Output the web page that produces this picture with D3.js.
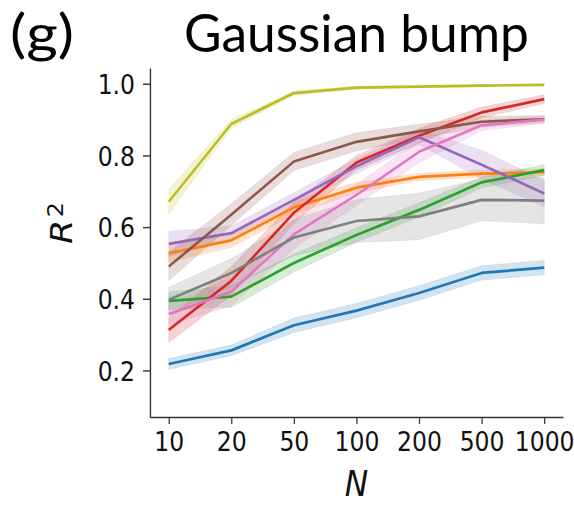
<!DOCTYPE html>
<html>
<head>
<meta charset="utf-8">
<script src="https://cdn.jsdelivr.net/npm/d3@7"></script>
<style>
  html, body { margin: 0; padding: 0; background: #fff; }
  svg { display: block; }
</style>
</head>
<body>
<div id="chart"></div>
<script>
// sample sizes on the x axis (evenly spaced, categorical)
const sampleSizes = ["10", "20", "50", "100", "200", "500", "1000"];
const yTicks = [0.2, 0.4, 0.6, 0.8, 1.0];

// mean R^2 per series
const blueMean   = [0.218, 0.256, 0.326, 0.367, 0.416, 0.472, 0.487];
const orangeMean = [0.527, 0.563, 0.655, 0.710, 0.740, 0.749, 0.753];
const greenMean  = [0.394, 0.406, 0.500, 0.578, 0.648, 0.725, 0.759];
const redMean    = [0.313, 0.450, 0.640, 0.780, 0.855, 0.920, 0.957];
const purpleMean = [0.553, 0.583, 0.676, 0.770, 0.851, 0.774, 0.694];
const brownMean  = [0.490, 0.635, 0.783, 0.838, 0.867, 0.894, 0.901];
const pinkMean   = [0.357, 0.420, 0.580, 0.690, 0.810, 0.884, 0.900];
const grayMean   = [0.397, 0.472, 0.571, 0.617, 0.630, 0.676, 0.674];
const oliveMean  = [0.671, 0.888, 0.974, 0.989, 0.992, 0.995, 0.997];

// half width of the shaded interval
const blueErr   = [0.015, 0.015, 0.020, 0.020, 0.020, 0.020, 0.020];
const orangeErr = [0.025, 0.020, 0.020, 0.015, 0.010, 0.010, 0.010];
const greenErr  = [0.025, 0.030, 0.025, 0.020, 0.020, 0.015, 0.015];
const redErr    = [0.035, 0.040, 0.030, 0.020, 0.020, 0.015, 0.012];
const purpleErr = [0.035, 0.020, 0.020, 0.020, 0.020, 0.040, 0.037];
const brownErr  = [0.040, 0.030, 0.025, 0.025, 0.020, 0.015, 0.010];
const pinkErr   = [0.030, 0.040, 0.040, 0.030, 0.030, 0.015, 0.010];
const grayErr   = [0.035, 0.040, 0.050, 0.060, 0.065, 0.058, 0.065];
const oliveErr  = [0.035, 0.012, 0.006, 0.004, 0.003, 0.003, 0.003];

const series = [
    { color: "#1f77b4", mean: blueMean,   err: blueErr },
    { color: "#ff7f0e", mean: orangeMean, err: orangeErr },
    { color: "#2ca02c", mean: greenMean,  err: greenErr },
    { color: "#d62728", mean: redMean,    err: redErr },
    { color: "#9467bd", mean: purpleMean, err: purpleErr },
    { color: "#8c564b", mean: brownMean,  err: brownErr },
    { color: "#e377c2", mean: pinkMean,   err: pinkErr },
    { color: "#7f7f7f", mean: grayMean,   err: grayErr },
    { color: "#bcbd22", mean: oliveMean,  err: oliveErr }
];

// the original figure is a bit squeezed sideways, so draw in a wider
// coordinate system and let the viewBox compress it
const width = 574, height = 505;
const sx = 0.87;
const W = width / sx;
const px = v => v / sx;   // screen x -> internal x

const plotLeft = px(150), plotRight = px(563);
const plotTop = 68, plotBottom = 417;

const svg = d3.select("#chart").append("svg")
    .attr("width", width)
    .attr("height", height)
    .attr("viewBox", `0 0 ${W} ${height}`)
    .attr("preserveAspectRatio", "none");

const x = d3.scaleLinear()
    .domain([-0.3, sampleSizes.length - 1 + 0.3])
    .range([plotLeft, plotRight]);

const y = d3.scaleLinear()
    .domain([0.07, 1.044])
    .range([plotBottom, plotTop]);

const area = d3.area()
    .x((d, i) => x(i))
    .y0(d => y(d[0] - d[1]))
    .y1(d => y(d[0] + d[1]));

const line = d3.line()
    .x((d, i) => x(i))
    .y(d => y(d));

const plot = svg.append("g");

series.forEach(s => {
    plot.append("path")
        .datum(s.mean.map((m, i) => [m, s.err[i]]))
        .attr("d", area)
        .attr("fill", s.color)
        .attr("fill-opacity", 0.2)
        .attr("stroke", s.color)
        .attr("stroke-opacity", 0.12)
        .attr("stroke-width", 1);
});

series.forEach(s => {
    plot.append("path")
        .datum(s.mean)
        .attr("d", line)
        .attr("fill", "none")
        .attr("stroke", s.color)
        .attr("stroke-width", 2.7)
        .attr("stroke-linejoin", "round");
});

// axes
const xAxis = d3.axisBottom(x)
    .tickValues(d3.range(sampleSizes.length))
    .tickFormat(i => sampleSizes[i])
    .tickSize(7)
    .tickSizeOuter(0)
    .tickPadding(8);

const yAxis = d3.axisLeft(y)
    .tickValues(yTicks)
    .tickFormat(d3.format(".1f"))
    .tickSize(px(7))
    .tickSizeOuter(0)
    .tickPadding(px(8));

const gx = svg.append("g")
    .attr("transform", `translate(0,${plotBottom})`)
    .call(xAxis);

const gy = svg.append("g")
    .attr("transform", `translate(${plotLeft},0)`)
    .call(yAxis);

[gx, gy].forEach(g => {
    g.select(".domain").attr("stroke", "#333").attr("stroke-width", 1.6);
    g.selectAll(".tick line").attr("stroke", "#333").attr("stroke-width", 1.4);
    g.selectAll(".tick text")
        .attr("fill", "#111")
        .style("font-family", "'DejaVu Sans', sans-serif")
        .style("font-size", "27px");
});
gy.selectAll(".tick text").attr("dy", "0.36em");

// axis labels
svg.append("text")
    .attr("x", (plotLeft + plotRight) / 2)
    .attr("y", 496.5)
    .attr("text-anchor", "middle")
    .style("font-family", "'DejaVu Sans', sans-serif")
    .style("font-style", "italic")
    .style("font-size", "36px")
    .attr("fill", "#111")
    .text("N");

const yLab = svg.append("text")
    .attr("transform", `translate(${px(72)},223) rotate(-90)`)
    .attr("text-anchor", "middle")
    .style("font-family", "'DejaVu Sans', sans-serif")
    .style("font-size", "35px")
    .attr("fill", "#111");
yLab.append("tspan").style("font-style", "italic").text("R");
yLab.append("tspan").attr("dy", "-0.45em").attr("dx", "0.1em").style("font-size", "24px").text("2");

// titles
svg.append("text")
    .attr("x", (plotLeft + plotRight) / 2)
    .attr("y", 52.5)
    .attr("text-anchor", "middle")
    .attr("textLength", px(345))
    .attr("lengthAdjust", "spacingAndGlyphs")
    .style("font-family", "Lato, sans-serif")
    .style("font-size", "53px")
    .attr("fill", "#000")
    .text("Gaussian bump");

svg.append("text")
    .attr("x", px(10))
    .attr("y", 52.5)
    .attr("textLength", px(64))
    .attr("lengthAdjust", "spacingAndGlyphs")
    .style("font-family", "Lato, sans-serif")
    .style("font-size", "53px")
    .attr("fill", "#000")
    .text("(g)");
</script>
</body>
</html>
